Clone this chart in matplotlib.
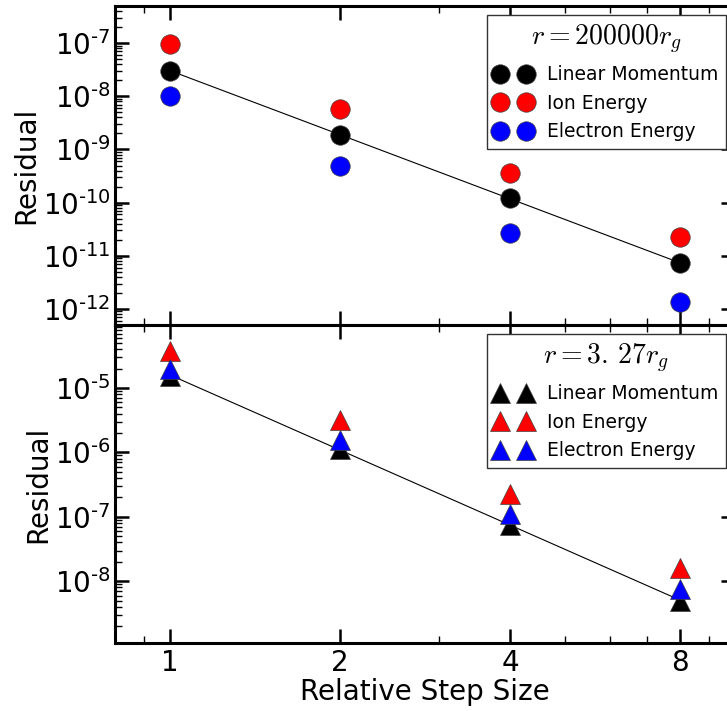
import numpy as np
import matplotlib
matplotlib.use("Agg")
import matplotlib.pyplot as plt
from matplotlib.ticker import FuncFormatter, NullFormatter, LogLocator
from matplotlib.font_manager import FontProperties

# Relative step sizes of the convergence test
step = [1, 2, 4, 8]
step_labels = ["1", "2", "4", "8"]

# Residuals at r = 200000 r_g
far_momentum = [3.05e-8, 1.89e-9, 1.2e-10, 7.3e-12]
far_ion = [9.6e-8, 5.8e-9, 3.6e-10, 2.25e-11]
far_electron = [1.0e-8, 5.0e-10, 2.7e-11, 1.38e-12]

# Residuals at r = 3.27 r_g
near_momentum = [1.56e-5, 1.12e-6, 7.55e-8, 4.98e-9]
near_ion = [3.78e-5, 3.14e-6, 2.27e-7, 1.58e-8]
near_electron = [1.94e-5, 1.58e-6, 1.11e-7, 7.7e-9]

series_names = ["Linear Momentum", "Ion Energy", "Electron Energy"]
series_colors = ["black", "red", "blue"]

W, H = 727, 711
fig = plt.figure(figsize=(W / 100, H / 100), dpi=100)

left = 115 / W
right = 735 / W
y_top = 1 - 6 / H
y_mid = 1 - 325 / H
y_bot = 1 - 643 / H

ax1 = fig.add_axes([left, y_mid, right - left, y_top - y_mid])
ax2 = fig.add_axes([left, y_bot, right - left, y_mid - y_bot], sharex=ax1)


def decade_label(v, pos):
    e = int(round(np.log10(v)))
    return r"$\mathregular{10^{%s}}$" % str(e).replace("-", "\u2010")


def fit_line(ax, x, y):
    lx, ly = np.log10(x), np.log10(y)
    k, b = np.polyfit(lx, ly, 1)
    xx = np.array([x[0], x[-1]], dtype=float)
    ax.plot(xx, 10 ** (k * np.log10(xx) + b), color="black", lw=0.8, zorder=2)


panels = [
    (ax1, [far_momentum, far_ion, far_electron], "o", r"$r=200000r_g$", (5e-13, 5e-7)),
    (ax2, [near_momentum, near_ion, near_electron], "^", r"$r=3.\,27r_g$", (1.1e-9, 9.5e-5)),
]

for ax, data, marker, title, ylim in panels:
    fit_line(ax, step, data[0])
    for vals, name, col in zip(data, series_names, series_colors):
        ax.plot(step, vals, linestyle="none", marker=marker, ms=14, color=col,
                mec="0.25", mew=0.5, label=name, zorder=3)
    ax.set_xscale("log")
    ax.set_yscale("log")
    ax.set_xlim(0.8, 10)
    ax.set_ylim(*ylim)
    ax.yaxis.set_major_locator(LogLocator(base=10, numticks=20))
    ax.yaxis.set_minor_locator(LogLocator(base=10, subs=np.arange(2, 10), numticks=20))
    ax.yaxis.set_major_formatter(FuncFormatter(decade_label))
    ax.yaxis.set_minor_formatter(NullFormatter())
    ax.set_ylabel("Residual", fontsize=20, labelpad=2)
    ax.tick_params(which="both", direction="in", top=True, right=True, labelsize=20)
    ax.tick_params(which="major", length=10, width=1.8, pad=3)
    ax.tick_params(which="minor", length=5, width=1.0)
    for sp in ax.spines.values():
        sp.set_linewidth(2.2)
    leg = ax.legend(loc="upper right", numpoints=2, fontsize=13.5, fancybox=False,
                    framealpha=1, edgecolor="0.2", title=title,
                    title_fontproperties=FontProperties(size=20, math_fontfamily="cm"))
    leg.get_frame().set_linewidth(1.0)

ax2.set_xticks(step)
ax2.set_xticklabels(step_labels)
ax2.xaxis.set_minor_formatter(NullFormatter())
ax2.tick_params(axis="x", which="major", pad=4)
plt.setp(ax1.get_xticklabels(), visible=False)
ax2.set_xlabel("Relative Step Size", fontsize=20, labelpad=1)

fig.savefig("out.png", dpi=100)
